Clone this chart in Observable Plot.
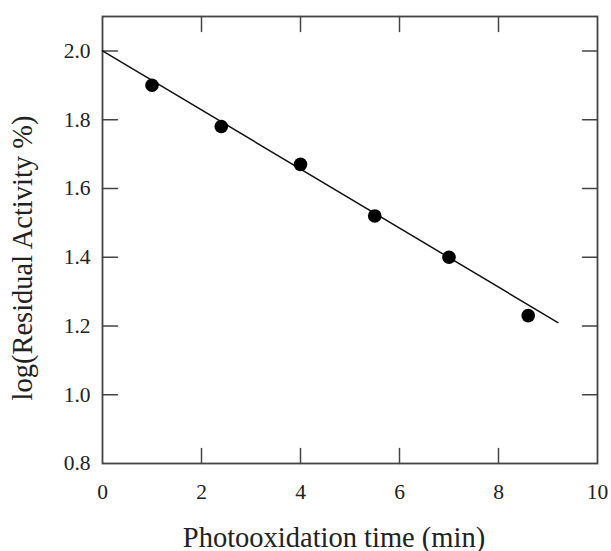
<!DOCTYPE html>
<html>
<head>
<meta charset="utf-8">
<script src="https://cdn.jsdelivr.net/npm/d3@7"></script>
<script src="https://cdn.jsdelivr.net/npm/@observablehq/plot@0.6"></script>
<style>
  html, body { margin: 0; padding: 0; background: #fff; }
  #chart { width: 611px; height: 551px; }
</style>
</head>
<body>
<div id="chart"></div>
<script>
const times = [1.0, 2.4, 4.0, 5.5, 7.0, 8.6];
const logActivity = [1.90, 1.78, 1.67, 1.52, 1.40, 1.23];
const fitX = [0, 9.2];
const fitY = [2.0, 1.21];
const xTicks = [0, 2, 4, 6, 8, 10];
const yTicks = [0.8, 1.0, 1.2, 1.4, 1.6, 1.8, 2.0];
const xLabel = "Photooxidation time (min)";
const yLabel = "log(Residual Activity %)";

const points = times.map((t, i) => ({t, v: logActivity[i]}));
const fit = fitX.map((t, i) => ({t, v: fitY[i]}));

const frameColor = "#444";
const TICK_LEN = 15;
const tickShape = {draw(context) { context.moveTo(0, 0); context.lineTo(0, -TICK_LEN); }};
const innerX = xTicks.slice(1, -1);
const innerY = yTicks.slice(1);
const tickOpts = {length: 1e-6, anchor: "start", shape: tickShape, stroke: frameColor, strokeWidth: 1.5};
const font = "'Liberation Serif', 'Times New Roman', serif";

const chart = Plot.plot({
  width: 611,
  height: 551,
  marginLeft: 102,
  marginRight: 14,
  marginTop: 16,
  marginBottom: 88,
  style: {fontFamily: font, fontSize: "21.5px", color: "#222", background: "#fff"},
  x: {domain: [0, 10], label: null},
  y: {domain: [0.8, 2.1], label: null},
  marks: [
    Plot.axisX(xTicks, {anchor: "bottom", tickSize: 0, tickPadding: 20, label: null}),
    Plot.axisY(yTicks, {anchor: "left", tickSize: 0, tickPadding: 12, tickFormat: d3.format(".1f"), label: null}),
    Plot.text([xLabel], {text: d => d, frameAnchor: "bottom", dy: 83, dx: -16, lineAnchor: "bottom", textAnchor: "middle", fontSize: 28.5, fill: "#222"}),
    Plot.text([yLabel], {text: d => d, frameAnchor: "left", dx: -71, dy: 18, rotate: -90, lineAnchor: "bottom", textAnchor: "middle", fontSize: 28.5, fill: "#222"}),
    Plot.vector(innerX, {x: d => d, frameAnchor: "bottom", rotate: 0, ...tickOpts}),
    Plot.vector(innerX, {x: d => d, frameAnchor: "top", rotate: 180, ...tickOpts}),
    Plot.vector(innerY, {y: d => d, frameAnchor: "left", rotate: 90, ...tickOpts}),
    Plot.vector(innerY, {y: d => d, frameAnchor: "right", rotate: -90, ...tickOpts}),
    Plot.frame({stroke: frameColor, strokeWidth: 1.8}),
    Plot.line(fit, {x: "t", y: "v", stroke: "#111", strokeWidth: 1.5}),
    Plot.dot(points, {x: "t", y: "v", r: 6.8, fill: "#000", stroke: "none"})
  ]
});
document.getElementById("chart").appendChild(chart);
</script>
</body>
</html>
